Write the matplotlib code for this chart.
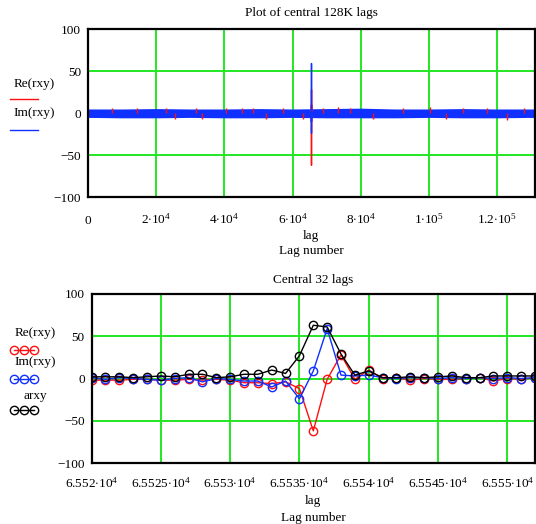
import numpy as np
import matplotlib
matplotlib.use('Agg')
import matplotlib.pyplot as plt
from matplotlib.ticker import FixedLocator, FuncFormatter

plt.rcParams['font.family'] = ['Liberation Serif', 'DejaVu Serif']
plt.rcParams['mathtext.fontset'] = 'custom'
plt.rcParams['mathtext.rm'] = 'Liberation Serif'
plt.rcParams['mathtext.it'] = 'Liberation Serif:italic'
plt.rcParams['mathtext.bf'] = 'Liberation Serif:bold'

# central 32 lags around the peak
lags = np.arange(65520, 65553)
re_rxy = [-2, -2, -2, -1, -1, -2, -2, -1, -2, -1, -2, -5, -5, -6, -4, -12, -62,
          -1, 28, -1, 10, 0, 1, -2, 0, -1, -1, 0, 1, -3, 0, -1, 1]
im_rxy = [1, -1, 1, 0, -1, -2, 0, 1, -4, 0, -1, -3, -3, -10, -3, -24, 9,
          59, 4, 3, 4, 1, 0, 1, 1, 0, 1, 0, 1, 0, 1, 0, 1]
arxy = [2, 2, 2, 1, 2, 3, 2, 5, 5, 1, 2, 5, 5, 10, 6, 27, 63,
        61, 29, 4, 9, 1, 1, 2, 1, 2, 3, 1, 1, 3, 3, 3, 3]

# noise band over all 128K lags (upper/lower envelope)
band_lags = [0, 10000, 20000, 30000, 40000, 50000, 60000, 70000, 80000,
             90000, 100000, 110000, 120000, 130000, 131072]
band_hi = [5, 5, 5.5, 5, 5, 5.5, 5, 5.5, 6, 5, 5, 5.5, 5, 5, 5]
band_lo = [-5, -5.5, -5.5, -5, -5.5, -5.5, -5, -5.5, -5.5, -5.5, -5, -5.5, -5.5, -5, -5.5]

# real-part excursions poking out of the band
fleck_lags = [7090, 14440, 22760, 25500, 31600, 33560, 40400, 45300, 48260,
              52200, 57100, 63000, 68850, 73260, 76700, 83560, 92400, 100200,
              105100, 110000, 116900, 122800, 127700]
fleck_vals = [6.5, 6.5, 6, -7, 6, -7, 6.5, 6, 6, -7, 6, -7, 6.5, 7, 6.5,
              -7, 6, 7, -7, 6, 6, -7.5, 6]

RED = '#ff1010'
BLUE = '#1030ff'
GREEN = '#22e622'

W, H = 536, 524
fig = plt.figure(figsize=(W / 100, H / 100), dpi=100)
fig.patch.set_facecolor('white')


def sci_label(v, pos=None):
    if v == 0:
        return '0'
    exp = int(np.floor(np.log10(abs(v)) + 1e-9))
    mant = '%g' % round(v / 10 ** exp, 6)
    return r'$%s{\cdot}10^{%d}$' % (mant, exp)


def style_axes(ax, xticks, xpad):
    ax.set_ylim(-100, 100)
    ax.xaxis.set_major_locator(FixedLocator(xticks))
    ax.yaxis.set_major_locator(FixedLocator([-100, -50, 0, 50, 100]))
    ax.xaxis.set_major_formatter(FuncFormatter(sci_label))
    ax.yaxis.set_major_formatter(FuncFormatter(
        lambda v, p: ('\u2212%d' % -v) if v < 0 else '%d' % v))
    ax.grid(True, color=GREEN, lw=1.4)
    ax.set_axisbelow(True)
    ax.tick_params(length=0, labelsize=9.5)
    ax.tick_params(axis='x', pad=xpad)
    ax.tick_params(axis='y', pad=5)
    # line the labels up on their baseline so plain "0" sits with the powers
    for lab in ax.get_xticklabels():
        lab.set_va('baseline')
    for s in ax.spines.values():
        s.set_linewidth(1.6)
        s.set_color('black')


# top: full range of lags
ax1 = fig.add_axes([88 / W, 1 - 197.4 / H, (535 - 88) / W, (197.4 - 29) / H])
ax1.vlines(fleck_lags, 0, fleck_vals, color=RED, lw=1)
ax1.plot(lags, re_rxy, color=RED, lw=1)
ax1.fill_between(band_lags, band_lo, band_hi, color=BLUE, lw=0)
ax1.plot(lags, im_rxy, color=BLUE, lw=1)
ax1.set_xlim(0, 131072)
style_axes(ax1, [0, 20000, 40000, 60000, 80000, 100000, 120000], 19)

# bottom: zoom on the central lags
ax2 = fig.add_axes([91.6 / W, 1 - 463 / H, (535 - 91.6) / W, (463 - 294) / H])
mk = dict(marker='o', ms=6, mfc='none', mew=1, lw=1)
ax2.plot(lags, re_rxy, color=RED, **mk)
ax2.plot(lags, im_rxy, color=BLUE, **mk)
ax2.plot(lags, arxy, color='black', **mk)
ax2.set_xlim(65520, 65552)
style_axes(ax2, [65520, 65525, 65530, 65535, 65540, 65545, 65550], 17.5)

# titles, axis names and the trace keys on the left
ov = fig.add_axes([0, 0, 1, 1], zorder=-1)
ov.set_xlim(0, W)
ov.set_ylim(H, 0)
ov.axis('off')
fs = 9.5
kw = dict(ha='center', va='center', fontsize=fs)
ov.text(311, 13, 'Plot of central 128K lags', **kw)
ov.text(311, 236, 'lag', **kw)
ov.text(311, 251, 'Lag number', **kw)
ov.text(313, 280, 'Central 32 lags', **kw)
ov.text(313, 501, 'lag', **kw)
ov.text(313, 518, 'Lag number', **kw)

ov.text(34, 84, 'Re(rxy)', **kw)
ov.plot([10, 38], [98.5, 98.5], color=RED, lw=1)
ov.text(34, 113, 'Im(rxy)', **kw)
ov.plot([10, 38], [130, 130], color=BLUE, lw=1)

for label, y_txt, y_sym, c in [('Re(rxy)', 333, 350, RED),
                               ('Im(rxy)', 362, 379, BLUE),
                               ('arxy', 396, 410, 'black')]:
    ov.text(35, y_txt, label, **kw)
    ov.plot([14, 24, 34], [y_sym] * 3, color=c, **mk)

fig.savefig('out.png', dpi=100)
